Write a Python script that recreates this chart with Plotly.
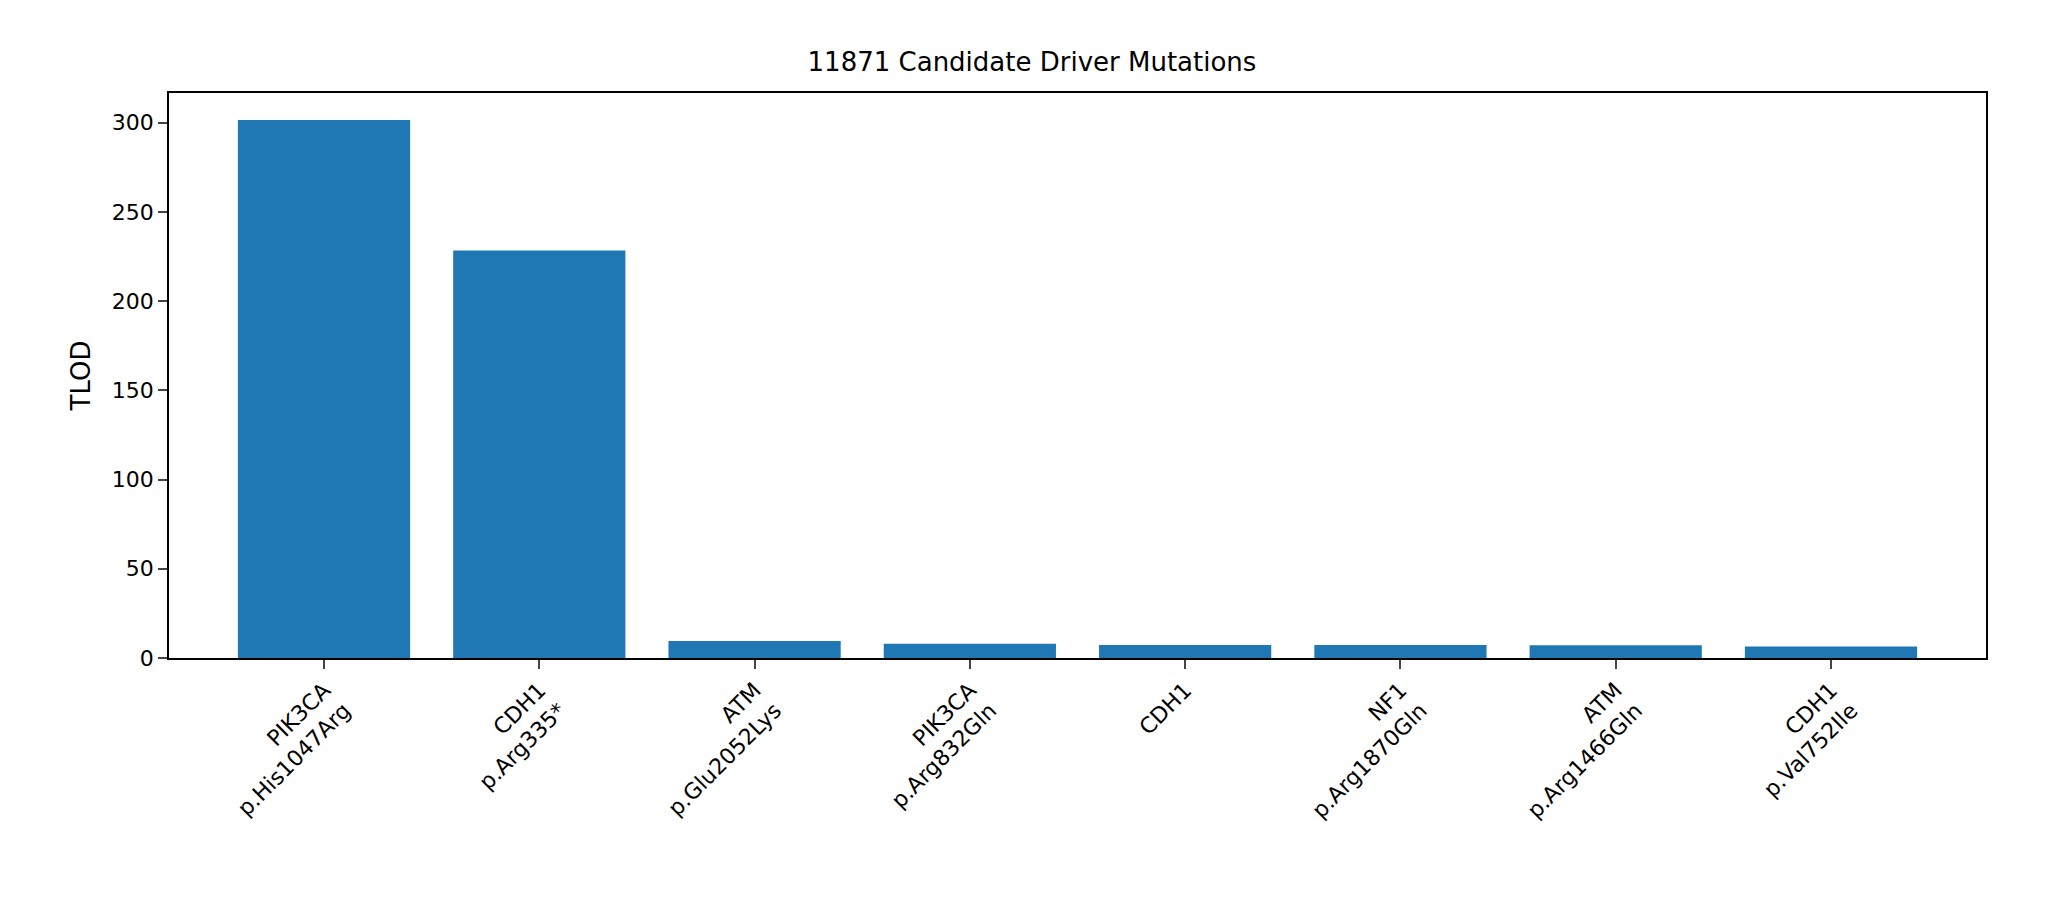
import plotly.graph_objects as go

genes = ["PIK3CA", "CDH1", "ATM", "PIK3CA", "CDH1", "NF1", "ATM", "CDH1"]
changes = ["p.His1047Arg", "p.Arg335*", "p.Glu2052Lys", "p.Arg832Gln", "", "p.Arg1870Gln", "p.Arg1466Gln", "p.Val752Ile"]
tlod = [301.5, 228.3, 9.5, 8.0, 7.3, 7.3, 7.2, 6.5]

labels = [g + ("<br>" + c if c else "") for g, c in zip(genes, changes)]
xs = list(range(len(tlod)))

fig = go.Figure(go.Bar(x=xs, y=tlod, width=0.8, marker=dict(color="#1f77b4", line_width=0)))

fig.update_layout(
    width=2048, height=910,
    paper_bgcolor="white", plot_bgcolor="white",
    margin=dict(l=161, r=70, t=85, b=260),
    font=dict(family="DejaVu Sans", size=22, color="black"),
    title=dict(text="11871 Candidate Driver Mutations", x=0.5, xanchor="center",
               y=1 - 54 / 910, yanchor="middle", font=dict(size=26)),
    showlegend=False,
)
fig.update_xaxes(range=[-0.72, 7.72], tickmode="array", tickvals=xs, ticktext=labels,
                 tickangle=-45, ticks="outside", ticklen=9, tickwidth=1.5,
                 showline=True, linecolor="black", linewidth=1.5, mirror=True,
                 showgrid=False, zeroline=False)
fig.update_yaxes(range=[0, 316.6], tickvals=[0, 50, 100, 150, 200, 250, 300],
                 ticks="outside", ticklen=9, tickwidth=1.5,
                 showline=True, linecolor="black", linewidth=1.5, mirror=True,
                 showgrid=False, zeroline=False,
                 title=dict(text="TLOD", standoff=14))

fig.write_html("out.html")
